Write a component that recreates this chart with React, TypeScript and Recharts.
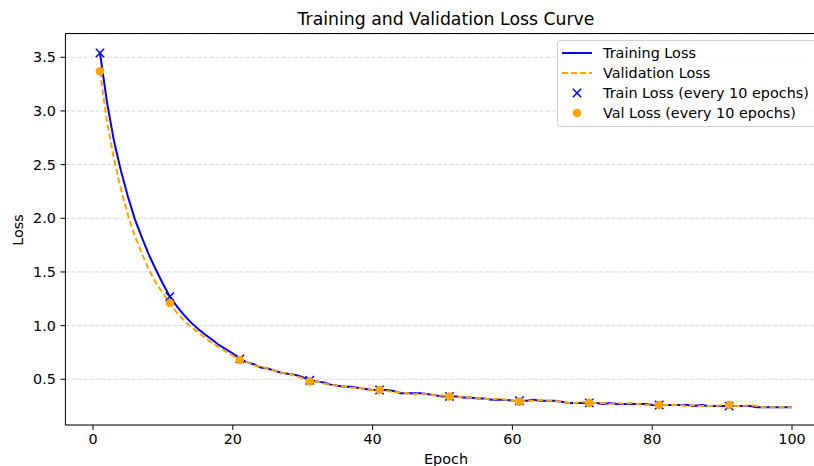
import React from "react";
import {
  ComposedChart, Line, Scatter, XAxis, YAxis, CartesianGrid,
} from "recharts";

const trainLoss = [
  3.54, 3.08, 2.72, 2.44, 2.2, 1.99, 1.82, 1.66, 1.52, 1.39,
  1.27, 1.18, 1.1, 1.03, 0.97, 0.92, 0.87, 0.82, 0.78, 0.74,
  0.69, 0.66, 0.64, 0.61, 0.6, 0.58, 0.56, 0.55, 0.54, 0.52,
  0.49, 0.48, 0.47, 0.45, 0.44, 0.43, 0.43, 0.42, 0.41, 0.4,
  0.4, 0.4, 0.39, 0.37, 0.37, 0.37, 0.37, 0.36, 0.35, 0.34,
  0.34, 0.34, 0.33, 0.33, 0.32, 0.32, 0.31, 0.31, 0.31, 0.3,
  0.3, 0.3, 0.31, 0.3, 0.3, 0.3, 0.29, 0.28, 0.28, 0.28,
  0.28, 0.28, 0.27, 0.28, 0.27, 0.27, 0.27, 0.27, 0.27, 0.26,
  0.26, 0.26, 0.26, 0.26, 0.26, 0.25, 0.26, 0.25, 0.25, 0.25,
  0.25, 0.25, 0.25, 0.25, 0.24, 0.24, 0.24, 0.24, 0.24, 0.24,
];

const valLoss = [
  3.37, 2.9, 2.55, 2.27, 2.03, 1.83, 1.67, 1.52, 1.4, 1.3,
  1.21, 1.12, 1.05, 0.99, 0.94, 0.89, 0.84, 0.8, 0.76, 0.72,
  0.68, 0.66, 0.63, 0.62, 0.6, 0.58, 0.56, 0.55, 0.53, 0.51,
  0.48, 0.48, 0.46, 0.45, 0.44, 0.43, 0.42, 0.42, 0.41, 0.4,
  0.4, 0.39, 0.38, 0.38, 0.37, 0.36, 0.37, 0.36, 0.35, 0.35,
  0.34, 0.33, 0.34, 0.33, 0.32, 0.32, 0.31, 0.32, 0.31, 0.3,
  0.29, 0.3, 0.3, 0.31, 0.3, 0.3, 0.29, 0.28, 0.28, 0.29,
  0.28, 0.28, 0.28, 0.27, 0.28, 0.27, 0.28, 0.27, 0.26, 0.27,
  0.26, 0.26, 0.26, 0.26, 0.25, 0.26, 0.25, 0.25, 0.25, 0.26,
  0.26, 0.25, 0.25, 0.26, 0.25, 0.24, 0.24, 0.24, 0.24, 0.24,
];

const markEpochs = [1, 11, 21, 31, 41, 51, 61, 71, 81, 91];
const xTicks = [0, 20, 40, 60, 80, 100];
const yTicks = [0.5, 1.0, 1.5, 2.0, 2.5, 3.0, 3.5];

const rows = trainLoss.map((t, i) => ({ epoch: i + 1, train: t, val: valLoss[i] }));
const trainMarks = markEpochs.map((e) => ({ epoch: e, loss: trainLoss[e - 1] }));
const valMarks = markEpochs.map((e) => ({ epoch: e, loss: valLoss[e - 1] }));

const FONT = "'DejaVu Sans', sans-serif";
const BLUE = "#0000ff";
const ORANGE = "#ffa500";
const FS = 14.4;

function XMark(props: any) {
  const { cx, cy } = props;
  const s = 4.2;
  return (
    <path
      d={`M${cx - s},${cy - s}L${cx + s},${cy + s}M${cx - s},${cy + s}L${cx + s},${cy - s}`}
      stroke={BLUE}
      strokeWidth={1.5}
      fill="none"
    />
  );
}

function Dot(props: any) {
  const { cx, cy } = props;
  return <circle cx={cx} cy={cy} r={4.3} fill={ORANGE} />;
}

function LegendBox() {
  const items = [
    { label: "Training Loss", kind: "line" },
    { label: "Validation Loss", kind: "dash" },
    { label: "Train Loss (every 10 epochs)", kind: "x" },
    { label: "Val Loss (every 10 epochs)", kind: "dot" },
  ];
  return (
    <div
      style={{
        position: "absolute", left: 557, top: 40, width: 263, height: 87,
        border: "1px solid #d0d0d0", borderRadius: 3, boxSizing: "border-box",
        background: "rgba(255,255,255,0.8)", fontFamily: FONT, fontSize: FS, color: "#000",
      }}
    >
      <svg width={40} height={87} style={{ position: "absolute", left: 0, top: 0 }}>
        {items.map((it, i) => {
          const y = 12 + i * 20;
          if (it.kind === "line") return <line key={i} x1={4} x2={34} y1={y} y2={y} stroke={BLUE} strokeWidth={2} />;
          if (it.kind === "dash") return <line key={i} x1={4} x2={34} y1={y} y2={y} stroke={ORANGE} strokeWidth={2} strokeDasharray="6 3" />;
          if (it.kind === "x") return <XMark key={i} cx={19} cy={y} />;
          return <Dot key={i} cx={19} cy={y} />;
        })}
      </svg>
      {items.map((it, i) => (
        <div
          key={i}
          style={{ position: "absolute", left: 45, top: 12 + i * 20 - 9, lineHeight: "18px", whiteSpace: "nowrap" }}
        >
          {it.label}
        </div>
      ))}
    </div>
  );
}

export default function App() {
  return (
    <div
      style={{
        position: "absolute", left: 0, top: 0, width: 814, height: 466,
        overflow: "hidden", background: "#fff", fontFamily: FONT,
      }}
    >
      <ComposedChart
        width={840}
        height={466}
        data={rows}
        margin={{ top: 34, right: 13.4, left: 0, bottom: 0 }}
      >
        <CartesianGrid vertical={false} stroke="#d6d6d6" strokeDasharray="4 2" />
        <XAxis
          dataKey="epoch"
          type="number"
          domain={[-3.95, 104.95]}
          ticks={xTicks}
          allowDataOverflow
          height={41}
          tickSize={4.9}
          tickMargin={4.3}
          tick={{ fontSize: FS, fill: "#000", fontFamily: FONT }}
          stroke="#000"
        />
        <YAxis
          type="number"
          domain={[0.074, 3.717]}
          ticks={yTicks}
          allowDataOverflow
          width={65.4}
          tickSize={4.9}
          tickMargin={4.5}
          tickFormatter={(v: number) => v.toFixed(1)}
          tick={{ fontSize: FS, fill: "#000", fontFamily: FONT }}
          stroke="#000"
        />
        <Line
          dataKey="train"
          stroke={BLUE}
          strokeWidth={2}
          dot={false}
          type="linear"
          isAnimationActive={false}
        />
        <Line
          dataKey="val"
          stroke={ORANGE}
          strokeWidth={2}
          strokeDasharray="6 3"
          dot={false}
          type="linear"
          isAnimationActive={false}
        />
        <Scatter data={trainMarks} dataKey="loss" shape={XMark} isAnimationActive={false} />
        <Scatter data={valMarks} dataKey="loss" shape={Dot} isAnimationActive={false} />
      </ComposedChart>
      {/* top spine */}
      <div style={{ position: "absolute", left: 65, top: 33, width: 760, height: 1, background: "#000" }} />
      <div
        style={{
          position: "absolute", left: 0, width: 892, top: 9, textAlign: "center",
          fontSize: 17.3, lineHeight: "20px", color: "#000",
        }}
      >
        Training and Validation Loss Curve
      </div>
      <div
        style={{
          position: "absolute", left: 0, width: 892, top: 450, textAlign: "center",
          fontSize: FS, lineHeight: "18px", color: "#000",
        }}
      >
        Epoch
      </div>
      <div
        style={{
          position: "absolute", left: 18, top: 230, fontSize: FS, lineHeight: "18px",
          transform: "translate(-50%, -50%) rotate(-90deg)", color: "#000", whiteSpace: "nowrap",
        }}
      >
        Loss
      </div>
      <LegendBox />
    </div>
  );
}
